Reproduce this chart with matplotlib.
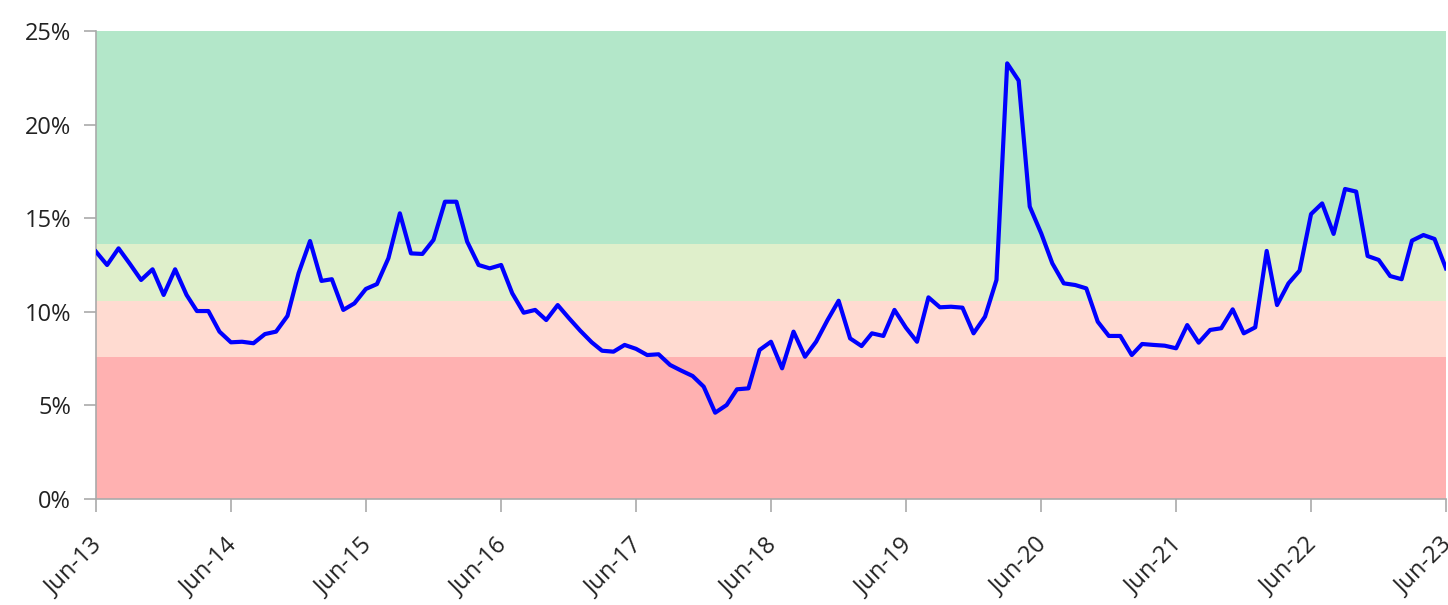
import matplotlib
matplotlib.use('Agg')
import matplotlib.pyplot as plt
import matplotlib.dates as mdates
import matplotlib.transforms as mtransforms
import pandas as pd

# monthly series, Jun-2013 .. Jun-2023 (%)
values = [
    13.21, 12.50, 13.39, 12.55, 11.70, 12.27, 10.90, 12.27, 10.90, 10.04,
    10.04, 8.94, 8.37, 8.40, 8.32, 8.81, 8.94, 9.78, 12.06, 13.78,
    11.65, 11.74, 10.10, 10.45, 11.22, 11.48, 12.86, 15.26, 13.12, 13.09,
    13.84, 15.88, 15.88, 13.75, 12.50, 12.32, 12.50, 10.99, 9.95, 10.10,
    9.56, 10.36, 9.67, 8.99, 8.37, 7.92, 7.87, 8.23, 8.02, 7.69,
    7.73, 7.16, 6.86, 6.57, 6.00, 4.61, 5.02, 5.86, 5.91, 7.96,
    8.40, 6.98, 8.94, 7.60, 8.40, 9.56, 10.59, 8.58, 8.17, 8.85,
    8.71, 10.10, 9.15, 8.40, 10.77, 10.24, 10.27, 10.22, 8.85, 9.74,
    11.70, 23.27, 22.35, 15.62, 14.19, 12.59, 11.52, 11.43, 11.25, 9.47,
    8.71, 8.71, 7.69, 8.28, 8.23, 8.19, 8.05, 9.29, 8.35, 9.03,
    9.12, 10.13, 8.85, 9.17, 13.25, 10.36, 11.52, 12.20, 15.22, 15.79,
    14.16, 16.56, 16.42, 12.98, 12.77, 11.91, 11.74, 13.80, 14.10, 13.89,
    12.32,
]
dates = pd.date_range('2013-06-01', periods=len(values), freq='MS')

# background zones (lower, upper, colour)
band_edges = [0, 7.6, 10.6, 13.6, 25]
band_colors = ['#ffb1b1', '#ffdbd1', '#dfefcb', '#b3e7c9']

fig = plt.figure(figsize=(14.48, 6.05), dpi=100)
ax = fig.add_axes([0.0663, 0.1752, 0.9323, 0.7736])

for lo, hi, c in zip(band_edges[:-1], band_edges[1:], band_colors):
    ax.axhspan(lo, hi, color=c, lw=0, zorder=0)

ax.plot(dates, values, color='#0000ff', lw=3, zorder=3)

ax.set_xlim(dates[0], dates[-1])
ax.set_ylim(0, 25)
ax.set_yticks([0, 5, 10, 15, 20, 25])
ax.set_yticklabels([f'{v}%' for v in [0, 5, 10, 15, 20, 25]])

ax.xaxis.set_major_locator(mdates.MonthLocator(bymonth=6))
ax.xaxis.set_major_formatter(mdates.DateFormatter('%b-%y'))

for s in ['top', 'right']:
    ax.spines[s].set_visible(False)
for s in ['left', 'bottom']:
    ax.spines[s].set_color('#aaaaaa')
    ax.spines[s].set_linewidth(1.2)

ax.tick_params(axis='both', colors='#aaaaaa', length=9, width=1.2,
               labelcolor='#222222', labelsize=17)
ax.tick_params(axis='y', pad=9)
fonts = ['Open Sans', 'DejaVu Sans']
shift = mtransforms.ScaledTranslation(-4 / 72, -12 / 72, fig.dpi_scale_trans)
for lab in ax.get_xticklabels():
    lab.set_rotation(45)
    lab.set_ha('right')
    lab.set_rotation_mode('anchor')
    lab.set_family(fonts)
    lab.set_transform(lab.get_transform() + shift)
plt.setp(ax.get_yticklabels(), family=fonts)

fig.savefig('out.png', dpi=100)
plt.close(fig)
